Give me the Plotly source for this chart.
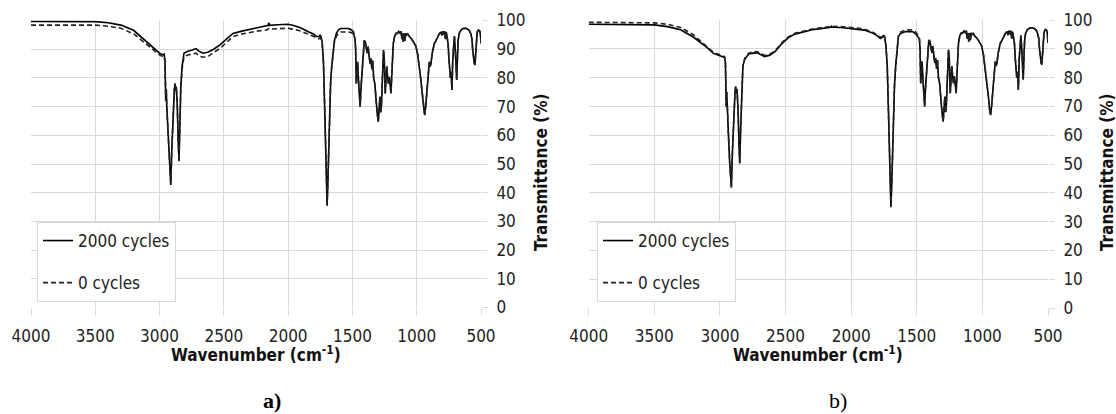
import plotly.graph_objects as go

# ---------------- data ----------------
# high-wavenumber part (4000 -> 1493 cm-1)
wn_high = [4000, 3800, 3600, 3500, 3400, 3300, 3200, 3100, 3050, 3000,
           2975, 2965, 2958, 2952, 2948, 2944, 2935, 2925, 2913, 2905,
           2895, 2885, 2880, 2875, 2870, 2862, 2855, 2849, 2843, 2835,
           2825, 2810, 2780, 2750, 2717, 2690, 2660, 2620, 2580, 2530,
           2480, 2429, 2360, 2297, 2230, 2167, 2155, 2150, 2145, 2080,
           2000, 1950, 1900, 1843, 1800, 1778, 1760, 1752, 1745, 1735,
           1725, 1715, 1705, 1697, 1690, 1680, 1670, 1661, 1650, 1640,
           1625, 1610, 1590, 1560, 1530, 1510, 1493]

t_high_a_2000 = [99.7, 99.7, 99.7, 99.6, 99.2, 98.4, 96.5, 92.6, 90.5, 88.6,
                 88.0, 88.3, 86, 72, 76, 70, 62, 52, 42.7, 55,
                 68, 76, 78, 75.5, 77, 70, 58, 51, 62, 77,
                 84, 88.6, 89.3, 89.6, 90.2, 89.2, 88.6, 89.0, 90.0, 91.5,
                 93.5, 95.5, 96.3, 96.9, 97.6, 98.1, 98.3, 99.2, 98.3, 98.5,
                 98.7, 98.2, 97.4, 96.1, 95.2, 94.4, 94.4, 94.9, 94.5, 92.5,
                 85, 68, 48, 35.5, 45, 65, 78, 84, 90, 93,
                 95.5, 96.7, 97.2, 97.3, 97.2, 96.8, 96.1]

t_high_a_0 = [98.4, 98.4, 98.4, 98.4, 98.0, 97.3, 95.3, 91.5, 89.6, 88.0,
              87.4, 87.5, 85.5, 72, 76, 70, 62, 52, 43, 55,
              68, 76, 78, 75.5, 77, 70, 58, 51.5, 62, 76,
              83, 87.4, 88.0, 88.2, 88.6, 87.6, 87.2, 87.6, 88.8, 90.3,
              92.3, 94.4, 95.3, 95.9, 96.4, 96.7, 96.9, 97.2, 97.0, 97.1,
              97.3, 96.9, 96.3, 95.2, 94.4, 93.8, 93.6, 94.0, 93.6, 92,
              85, 68, 48, 36, 45, 65, 78, 84, 89.5, 92.5,
              94.5, 95.5, 96.0, 96.1, 96.0, 95.8, 95.3]

t_high_b_2000 = [98.5, 98.5, 98.5, 98.3, 97.7, 96.6, 94.0, 90.5, 88.4, 87.6,
                 87.3, 87.0, 85, 70, 75, 69, 60, 50, 41.8, 54,
                 67, 75, 77, 74.5, 76, 69, 57, 50.2, 61, 76,
                 84, 86.5, 88.2, 88.5, 88.6, 88.0, 87.3, 87.8, 89.0, 91.7,
                 93.8, 95.1, 95.9, 96.6, 97.0, 97.4, 97.5, 97.8, 97.5, 97.4,
                 97.1, 96.9, 96.5, 95.6, 94.5, 93.6, 94.0, 94.8, 94.0, 91,
                 84, 67, 47, 35, 44, 64, 77, 83.8, 90, 94.2,
                 95.3, 95.6, 95.9, 96.0, 95.9, 95.3, 94.2]

t_high_b_0 = [99.2, 99.2, 99.2, 99.0, 98.5, 97.4, 94.8, 91.0, 88.8, 87.9,
              87.6, 87.3, 85.3, 70, 75, 69, 60, 50, 42, 54,
              67, 75, 77, 74.5, 76, 69, 57, 50.5, 61, 76,
              84, 86.8, 88.5, 88.9, 89.0, 88.4, 87.7, 88.1, 89.3, 92.0,
              94.1, 95.4, 96.2, 96.9, 97.3, 97.7, 97.8, 98.0, 97.8, 97.7,
              97.5, 97.2, 96.8, 95.9, 94.8, 94.0, 94.3, 95.0, 94.3, 91.3,
              84, 67, 47, 35.5, 44, 64, 77, 84, 90.3, 94.6,
              95.8, 96.2, 96.5, 96.6, 96.5, 95.9, 94.8]

# fingerprint part (1480 -> 500 cm-1), curves overlap in both panels
wn_fp = [1480, 1475, 1470, 1465, 1460, 1453, 1447, 1440, 1434, 1428,
         1421, 1414, 1408, 1400, 1392, 1385, 1378, 1370, 1363, 1356,
         1349, 1342, 1335, 1326, 1317, 1308, 1299, 1292, 1286, 1280,
         1275, 1270, 1265, 1258, 1252, 1245, 1239, 1233, 1226, 1220,
         1213, 1206, 1200, 1195, 1188, 1182, 1172, 1161, 1150, 1140,
         1130, 1122, 1115, 1110, 1104, 1098, 1092, 1085, 1078, 1070,
         1057, 1040, 1025, 1006, 992, 980, 967, 954, 945, 938,
         930, 923, 915, 908, 902, 896, 889, 880, 863, 850,
         838, 825, 812, 805, 798, 790, 784, 776, 770, 762,
         756, 750, 744, 738, 732, 726, 720, 714, 707, 700,
         694, 689, 684, 678, 670, 656, 640, 617, 600, 591,
         580, 570, 565, 559, 552, 547, 542, 536, 530, 521,
         512, 505, 500]

t_fp = [93.5, 90, 78, 82, 85.6, 79.3, 74, 70, 76, 80.4,
        84, 88, 93, 92.6, 90, 88.6, 90.9, 86, 85, 86.8,
        83, 86, 80, 78, 72, 68, 64.7, 70, 73.4, 68,
        70, 76, 82.8, 89.7, 86, 74.6, 79, 84, 80, 78,
        80.4, 76, 74.6, 80, 88, 92, 94.5, 95.5, 95.5, 96.2,
        95.6, 96.2, 93.5, 95.5, 92.5, 95.5, 93, 95.5, 95, 95.3,
        94.4, 93.6, 92.5, 91, 88, 84, 79, 73.4, 69, 67,
        70, 74.6, 79, 83, 85.6, 84, 85, 88.5, 92, 93,
        94.4, 95.3, 96, 94.8, 96.3, 95, 96.3, 93.5, 96, 94,
        92, 87, 84, 80, 82, 75.8, 86, 93, 94.6, 90,
        82, 79.3, 86, 93, 95.5, 96.7, 97.2, 97.3, 96.9, 96.5,
        95.5, 93.5, 90, 86, 85, 84.5, 88, 93, 95.8, 96.7,
        96.5, 95.5, 92]

x_ticks = [4000, 3500, 3000, 2500, 2000, 1500, 1000, 500]
y_ticks = [0, 10, 20, 30, 40, 50, 60, 70, 80, 90, 100]
series_names = ["2000 cycles", "0 cycles"]
panel_labels = ["<b>a)</b>", "b)"]
x_title = "Wavenumber (cm<sup>-1</sup>)"
y_title = "Transmittance (%)"

# ---------------- figure ----------------
FONT = "DejaVu Sans Condensed, DejaVu Sans, sans-serif"
GRID = "#d9d9d9"
W, H = 1116, 414

fig = go.Figure()

wn_all = wn_high + wn_fp
panels = [
    ("x", "y", "legend", t_high_a_2000, t_high_a_0),
    ("x2", "y2", "legend2", t_high_b_2000, t_high_b_0),
]
for i, (xa, ya, lg, t2000, t0) in enumerate(panels):
    fig.add_trace(go.Scatter(
        x=wn_all, y=t2000 + t_fp, mode="lines", name=series_names[0],
        line=dict(color="black", width=1.6), xaxis=xa, yaxis=ya,
        legend=lg, legendgroup=f"s{i}", legendrank=1))
    fig.add_trace(go.Scatter(
        x=wn_all, y=t0 + t_fp, mode="lines", name=series_names[1],
        line=dict(color="#222222", width=1.6, dash="5px,3px"),
        xaxis=xa, yaxis=ya, legend=lg, legendgroup=f"d{i}", legendrank=2))

def xaxis_cfg(dom, anchor):
    return dict(domain=dom, anchor=anchor, range=[4000, 500],
                tickvals=x_ticks, showgrid=True, gridcolor=GRID, gridwidth=1,
                ticks="outside", ticklen=6, tickcolor=GRID,
                ticklabelstandoff=7,
                showline=False, zeroline=False, automargin=False,
                tickfont=dict(family=FONT, size=17, color="#222"))

def yaxis_cfg(dom, anchor):
    return dict(domain=dom, anchor=anchor, range=[0, 100], side="right",
                tickvals=y_ticks, showgrid=True, gridcolor=GRID, gridwidth=1,
                ticks="outside", ticklen=6, tickcolor=GRID,
                ticklabelstandoff=5,
                showline=False, zeroline=False, automargin=False,
                tickfont=dict(family=FONT, size=17, color="#222"))

xa_dom = [31 / W, 481 / W]
xb_dom = [588.7 / W, 1048 / W]
ya_dom = [1 - 307.5 / H, 1 - 20.5 / H]
yb_dom = [1 - 308 / H, 1 - 20 / H]

legend_common = dict(
    bgcolor="white", bordercolor=GRID, borderwidth=1,
    font=dict(family=FONT, size=17, color="#222"),
    yanchor="top", xanchor="left", tracegroupgap=17,
    itemwidth=30, traceorder="grouped")

fig.update_layout(
    width=W, height=H,
    margin=dict(l=0, r=0, t=0, b=0, pad=0, autoexpand=False),
    paper_bgcolor="white", plot_bgcolor="white",
    showlegend=True,
    xaxis=xaxis_cfg(xa_dom, "y"),
    yaxis=yaxis_cfg(ya_dom, "x"),
    xaxis2=xaxis_cfg(xb_dom, "y2"),
    yaxis2=yaxis_cfg(yb_dom, "x2"),
    legend=dict(x=37 / W, y=1 - 222 / H, **legend_common),
    legend2=dict(x=597 / W, y=1 - 222 / H, **legend_common),
)

annots = [
    dict(x=(31 + 481) / 2 / W, y=1 - 354 / H, text="<b>" + x_title + "</b>"),
    dict(x=(588.7 + 1048) / 2 / W, y=1 - 354 / H, text="<b>" + x_title + "</b>"),
]
for a in annots:
    fig.add_annotation(xref="paper", yref="paper", x=a["x"], y=a["y"],
                       text=a["text"], showarrow=False, xanchor="center",
                       yanchor="middle",
                       font=dict(family=FONT, size=17, color="#111"))
for xc in (541, 1107):
    fig.add_annotation(xref="paper", yref="paper", x=xc / W, y=1 - 172 / H,
                       text="<b>" + y_title + "</b>", textangle=-90,
                       showarrow=False, xanchor="center", yanchor="middle",
                       font=dict(family=FONT, size=17, color="#111"))
for xc, lab in zip((272, 838), panel_labels):
    fig.add_annotation(xref="paper", yref="paper", x=xc / W, y=1 - 400 / H,
                       text=lab, showarrow=False, xanchor="center",
                       yanchor="middle",
                       font=dict(family="Liberation Serif, serif", size=22,
                                 color="black"))

fig.write_html(
    "out.html",
    config={"displayModeBar": False},
    post_script="document.body.style.margin='0px';"
                "document.body.style.overflow='hidden';")
